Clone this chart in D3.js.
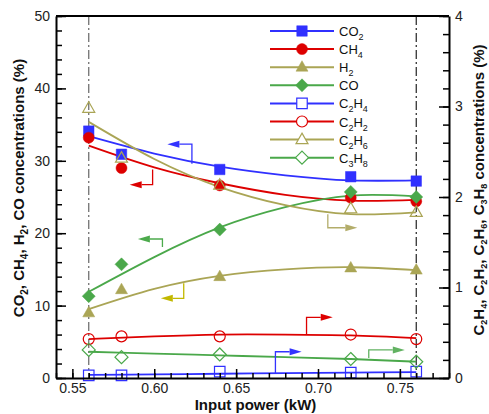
<!DOCTYPE html>
<html lang="en">
<head>
    <meta charset="UTF-8">
    <title>Gas concentrations vs input power</title>
    <script src="https://d3js.org/d3.v7.min.js"></script>
    <style>
        body { margin: 0; background: #fff; }
        svg { font-family: Arial, 'Liberation Sans', sans-serif; }
        .tick text { font-size: 14px; fill: #222; }
        .title { font-size: 15px; font-weight: bold; fill: #111; }
        .legend text { font-size: 13px; fill: #111; }
    </style>
</head>
<body>
    <svg id="chart" width="489" height="414"></svg>

    <script>
        // measured points
        const power = [0.56, 0.58, 0.64, 0.72, 0.76];
        const co2  = [34.1, 30.9, 28.8, 27.8, 27.2];
        const ch4  = [33.2, 29.0, 26.6, 24.9, 24.4];
        const h2   = [9.0, 12.2, 14.0, 15.2, 14.9];
        const co   = [11.3, 15.7, 20.5, 25.7, 25.0];
        const c2h4 = [0.03, 0.03, 0.07, 0.06, 0.07];
        const c2h2 = [0.43, 0.46, 0.46, 0.48, 0.43];
        const c2h6 = [2.98, 2.43, 2.13, 1.87, 1.83];
        const c3h8 = [0.31, 0.23, 0.26, 0.21, 0.18];

        // fitted curves
        const fitPower = [0.56, 0.60, 0.64, 0.68, 0.72, 0.76];
        const co2Fit  = [33.4, 31.0, 29.2, 28.0, 27.3, 27.3];
        const ch4Fit  = [32.1, 29.1, 26.9, 25.3, 24.5, 24.6];
        const h2Fit   = [9.5, 12.3, 14.1, 15.0, 15.3, 14.9];
        const coFit   = [11.9, 16.7, 20.8, 23.6, 25.2, 25.1];
        const c2h4Fit = [0.035, 0.04, 0.047, 0.053, 0.06, 0.065];
        const c2h2Fit = [0.43, 0.46, 0.48, 0.48, 0.47, 0.44];
        const c2h6Fit = [2.83, 2.42, 2.11, 1.91, 1.81, 1.83];
        const c3h8Fit = [0.29, 0.27, 0.25, 0.23, 0.21, 0.18];

        const xTicks = [0.55, 0.60, 0.65, 0.70, 0.75];
        const yLeftTicks = [0, 10, 20, 30, 40, 50];
        const yRightTicks = [0, 1, 2, 3, 4];
        const guideLines = [0.56, 0.76];

        // axis arrows: x of riser, start y, corner y, tip x
        const arrowX    = [0.623, 0.599, 0.605, 0.618, 0.706, 0.693, 0.731, 0.674];
        const arrowY0   = [29.6, 28.8, 18.1, 13.1, 1.81, 0.48, 0.22, 0.055];
        const arrowY1   = [32.3, 26.7, 19.2, 11.0, 1.66, 0.67, 0.31, 0.29];
        const arrowTip  = [0.608, 0.585, 0.590, 0.604, 0.724, 0.709, 0.753, 0.690];
        const arrowClr  = ["#3333ff", "#dd0000", "#4caa4c", "#c2b800", "#b3ad6a", "#dd0000", "#62b262", "#3333ff"];

        const BLUE = "#3030ff", RED = "#dd0000", OLIVE = "#aaa555", GREEN = "#4aa84a";

        const series = [
            { name: "CO2",  v: co2,  fit: co2Fit,  color: BLUE,  shape: "square",   filled: true,  axis: "L" },
            { name: "CH4",  v: ch4,  fit: ch4Fit,  color: RED,   shape: "circle",   filled: true,  axis: "L" },
            { name: "H2",   v: h2,   fit: h2Fit,   color: OLIVE, shape: "triangle", filled: true,  axis: "L" },
            { name: "CO",   v: co,   fit: coFit,   color: GREEN, shape: "diamond",  filled: true,  axis: "L" },
            { name: "C2H4", v: c2h4, fit: c2h4Fit, color: BLUE,  shape: "square",   filled: false, axis: "R" },
            { name: "C2H2", v: c2h2, fit: c2h2Fit, color: RED,   shape: "circle",   filled: false, axis: "R" },
            { name: "C2H6", v: c2h6, fit: c2h6Fit, color: OLIVE, shape: "triangle", filled: false, axis: "R" },
            { name: "C3H8", v: c3h8, fit: c3h8Fit, color: GREEN, shape: "diamond",  filled: false, axis: "R" }
        ];

        const svg = d3.select("#chart");
        const margin = { top: 16, right: 40, bottom: 36, left: 56 };
        const W = 489, H = 414;

        const x = d3.scaleLinear().domain([0.54, 0.78]).range([margin.left, W - margin.right]);
        const yL = d3.scaleLinear().domain([0, 50]).range([H - margin.bottom, margin.top]);
        const yR = d3.scaleLinear().domain([0, 4]).range([H - margin.bottom, margin.top]);

        // marker paths
        function markerPath(shape) {
            if (shape === "square") return d3.symbol(d3.symbolSquare, 110)();
            if (shape === "circle") return d3.symbol(d3.symbolCircle, 95)();
            if (shape === "triangle") return "M0,-6.5L6,4L-6,4Z";
            return "M0,-6.5L6.5,0L0,6.5L-6.5,0Z";
        }

        // text with subscripted digits
        function chem(sel, str, subSize, shift) {
            const parts = str.match(/\d+|\D+/g);
            parts.forEach((p, i) => {
                const isSub = /^\d+$/.test(p);
                const t = sel.append("tspan").text(p);
                if (isSub) {
                    t.attr("font-size", subSize).attr("dy", shift);
                } else if (i > 0) {
                    t.attr("dy", -shift);
                }
            });
        }

        // guide lines
        svg.selectAll(".guide").data(guideLines).join("line")
            .attr("x1", d => x(d)).attr("x2", d => x(d))
            .attr("y1", margin.top).attr("y2", H - margin.bottom)
            .attr("stroke", (d, i) => i === 0 ? "#666" : "#222")
            .attr("stroke-width", 1.2)
            .attr("stroke-dasharray", "9,3,2,3");

        // fits
        const plot = svg.append("g");
        series.forEach(s => {
            const y = s.axis === "L" ? yL : yR;
            const line = d3.line().x((d, i) => x(fitPower[i])).y(d => y(d)).curve(d3.curveNatural);
            plot.append("path").datum(s.fit)
                .attr("d", line)
                .attr("fill", "none")
                .attr("stroke", s.color)
                .attr("stroke-width", 1.8);
        });

        // markers
        series.forEach(s => {
            const y = s.axis === "L" ? yL : yR;
            plot.selectAll(null).data(s.v).join("path")
                .attr("transform", (d, i) => `translate(${x(power[i])},${y(d)})`)
                .attr("d", markerPath(s.shape))
                .attr("fill", s.filled ? s.color : "none")
                .attr("stroke", s.color)
                .attr("stroke-width", s.filled ? 0.5 : 1.2);
        });

        // arrows
        arrowX.forEach((ax, i) => {
            const y = i < 4 ? yL : yR;
            const px = x(ax), py0 = y(arrowY0[i]), py1 = y(arrowY1[i]), tip = x(arrowTip[i]);
            const dir = tip < px ? -1 : 1;
            const base = tip - dir * 12;
            svg.append("path")
                .attr("d", `M${px},${py0}V${py1}H${base}`)
                .attr("fill", "none")
                .attr("stroke", arrowClr[i])
                .attr("stroke-width", 1.3);
            svg.append("path")
                .attr("d", `M${tip},${py1}L${base},${py1 - 3.5}L${base},${py1 + 3.5}Z`)
                .attr("fill", arrowClr[i]);
        });

        // axes
        const bottom = svg.append("g").attr("transform", `translate(0,${H - margin.bottom})`);
        bottom.call(d3.axisBottom(x).tickValues(d3.range(54, 79).map(d => d / 100)).tickSize(-5).tickSizeOuter(0).tickFormat(""));
        bottom.call(g => g.selectAll(".tick line").attr("stroke-width", 1.5));
        const bottomMaj = svg.append("g").attr("transform", `translate(0,${H - margin.bottom})`)
            .call(d3.axisBottom(x).tickValues(xTicks).tickSize(-9).tickSizeOuter(0).tickPadding(5).tickFormat(d3.format(".2f")));
        bottomMaj.select(".domain").remove();
        bottomMaj.selectAll(".tick line").attr("stroke-width", 1.5);

        const left = svg.append("g").attr("transform", `translate(${margin.left},0)`)
            .call(d3.axisLeft(yL).tickValues(d3.range(0, 51, 2)).tickSize(-6).tickSizeOuter(0).tickFormat(""));
        left.selectAll(".tick line").attr("stroke-width", 1.5);
        const leftMaj = svg.append("g").attr("transform", `translate(${margin.left},0)`)
            .call(d3.axisLeft(yL).tickValues(yLeftTicks).tickSize(-10).tickSizeOuter(0).tickPadding(6));
        leftMaj.select(".domain").remove();
        leftMaj.selectAll(".tick line").attr("stroke-width", 1.5);

        const right = svg.append("g").attr("transform", `translate(${W - margin.right},0)`)
            .call(d3.axisRight(yR).tickValues(d3.range(0, 21).map(d => d / 5)).tickSize(-6).tickSizeOuter(0).tickFormat(""));
        right.selectAll(".tick line").attr("stroke-width", 1.5);
        const rightMaj = svg.append("g").attr("transform", `translate(${W - margin.right},0)`)
            .call(d3.axisRight(yR).tickValues(yRightTicks).tickSize(-10).tickSizeOuter(0).tickPadding(6).tickFormat(d3.format("d")));
        rightMaj.select(".domain").remove();
        rightMaj.selectAll(".tick line").attr("stroke-width", 1.5);

        svg.selectAll(".domain").attr("stroke-width", 2);
        svg.append("line")
            .attr("x1", margin.left).attr("x2", W - margin.right)
            .attr("y1", margin.top).attr("y2", margin.top)
            .attr("stroke", "#000").attr("stroke-width", 2);
        svg.selectAll(".tick text").attr("font-family", "Arial, 'Liberation Sans', sans-serif");

        // titles
        svg.append("text").attr("class", "title")
            .attr("x", (margin.left + W - margin.right) / 2 + 3).attr("y", 410)
            .attr("text-anchor", "middle").text("Input power (kW)");

        const lt = svg.append("text").attr("class", "title")
            .attr("transform", `translate(24,188) rotate(-90)`)
            .attr("text-anchor", "middle");
        chem(lt, "CO2, CH4, H2, CO  concentrations (%)", 10, 4);

        const rt = svg.append("text").attr("class", "title")
            .attr("transform", `translate(484,190) rotate(-90)`)
            .attr("text-anchor", "middle");
        chem(rt, "C2H4, C2H2, C2H6, C3H8 concentrations (%)", 9, 3);

        // legend
        const legend = svg.append("g").attr("class", "legend").attr("transform", "translate(270,31)");
        series.forEach((s, i) => {
            const g = legend.append("g").attr("transform", `translate(0,${i * 18.1})`);
            g.append("line").attr("x1", 0).attr("x2", 64).attr("stroke", s.color).attr("stroke-width", 2);
            g.append("path").attr("transform", "translate(32,0)")
                .attr("d", markerPath(s.shape))
                .attr("fill", s.filled ? s.color : "#fff")
                .attr("stroke", s.color)
                .attr("stroke-width", s.filled ? 0.5 : 1.2);
            const t = g.append("text").attr("x", 69).attr("y", 5);
            chem(t, s.name, 9, 4);
        });
    </script>
</body>
</html>
